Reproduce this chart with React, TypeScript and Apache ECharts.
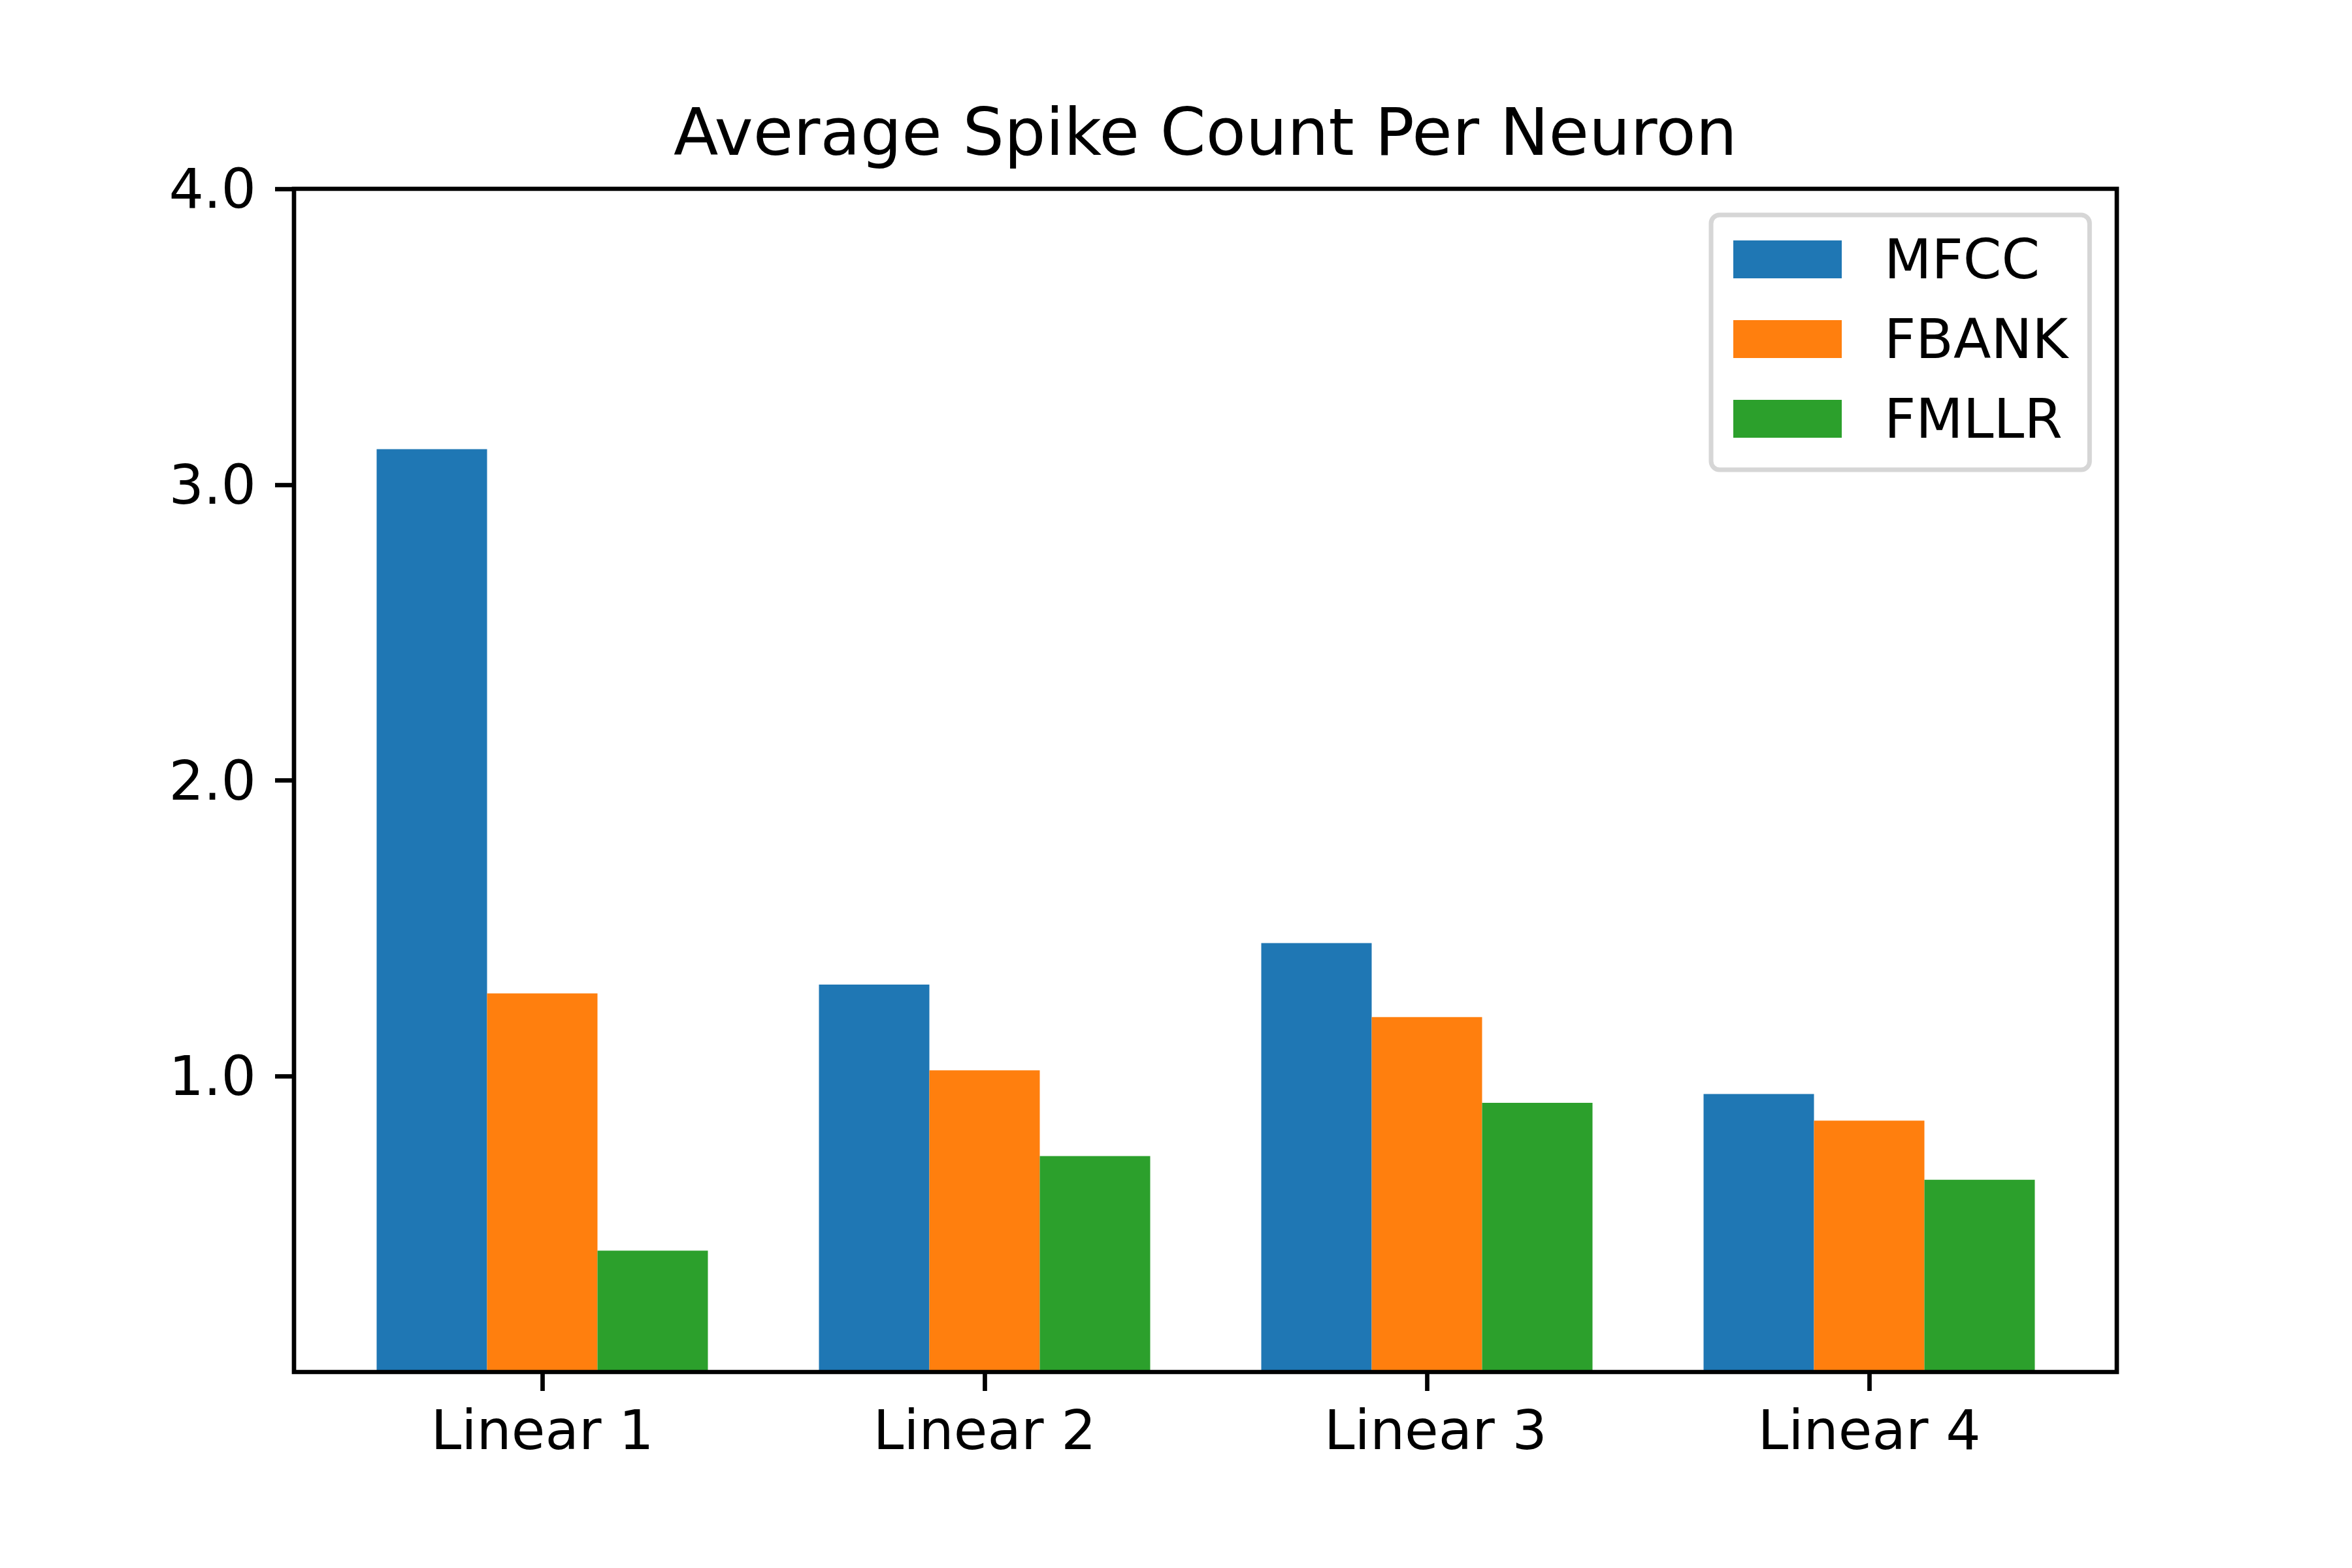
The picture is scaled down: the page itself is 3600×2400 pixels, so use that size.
import React, { useEffect, useRef } from "react";
import * as echarts from "echarts";

const titleText = "Average Spike Count Per Neuron";
const categories = ["Linear 1", "Linear 2", " Linear 3", "Linear 4"];
const seriesNames = ["MFCC", "FBANK", "FMLLR"];
const mfccValues = [3.12, 1.31, 1.45, 0.94];
const fbankValues = [1.28, 1.02, 1.2, 0.85];
const fmllrValues = [0.41, 0.73, 0.91, 0.65];
const yTickValues = [1, 2, 3, 4];
const colors = ["#1f77b4", "#ff7f0e", "#2ca02c"];

const FONT = "DejaVu Sans";

export default function App() {
  const ref = useRef<HTMLDivElement>(null);

  useEffect(() => {
    if (!ref.current) return;
    const chart = echarts.init(ref.current, undefined, { renderer: "svg", width: 3600, height: 2400 });
    const seriesValues = [mfccValues, fbankValues, fmllrValues];

    const option: any = {
      animation: false,
      backgroundColor: "#ffffff",
      graphic: [
        {
          type: "text",
          x: 1845,
          y: 202,
          z: 10,
          style: {
            text: titleText,
            fontSize: 100,
            fontFamily: FONT,
            fill: "#000",
            align: "center",
            verticalAlign: "middle",
          },
        },
      ],
      grid: [
        {
          left: 450,
          top: 289,
          width: 2790,
          height: 1811,
          show: true,
          borderColor: "#000",
          borderWidth: 6.7,
          backgroundColor: "transparent",
          z: 5,
        },
        {
          left: 491.5,
          top: 289,
          width: 2708,
          height: 1811,
        },
      ],
      xAxis: [
        { gridIndex: 0, type: "value", min: 0, max: 1, show: false },
        {
          gridIndex: 1,
          type: "category",
          data: categories,
          axisLine: { show: false },
          axisTick: {
            show: true,
            alignWithLabel: true,
            length: 29,
            lineStyle: { color: "#000", width: 6.7 },
          },
          axisLabel: {
            margin: 47,
            fontSize: 84,
            fontFamily: FONT,
            color: "#000",
          },
          splitLine: { show: false },
        },
      ],
      yAxis: [
        {
          gridIndex: 0,
          type: "value",
          min: 0,
          max: 4,
          interval: 1,
          axisLine: { show: false },
          axisTick: {
            show: true,
            length: 29,
            customValues: yTickValues,
            lineStyle: { color: "#000", width: 6.7 },
          },
          axisLabel: {
            margin: 58,
            fontSize: 84,
            fontFamily: FONT,
            color: "#000",
            customValues: yTickValues,
            formatter: (v: number) => v.toFixed(1),
          },
          splitLine: { show: false },
        },
        {
          gridIndex: 1,
          type: "value",
          min: 0,
          max: 4,
          interval: 1,
          show: false,
        },
      ],
      legend: {
        orient: "vertical",
        left: 2619,
        top: 329,
        padding: [26, 33, 36, 34],
        itemWidth: 166,
        itemHeight: 58,
        itemGap: 38,
        icon: "rect",
        backgroundColor: "#ffffff",
        borderColor: "#d6d6d6",
        borderWidth: 7,
        borderRadius: 13,
        data: seriesNames,
        textStyle: {
          fontSize: 84,
          fontFamily: FONT,
          color: "#000",
          padding: [0, 0, 0, 60],
        },
      },
      series: seriesNames.map((name, i) => ({
        name,
        type: "bar",
        xAxisIndex: 1,
        yAxisIndex: 1,
        data: seriesValues[i],
        barWidth: 169,
        barGap: "0%",
        itemStyle: { color: colors[i] },
        emphasis: { disabled: true },
      })),
    };

    chart.setOption(option);
    return () => chart.dispose();
  }, []);

  return (
    <div
      ref={ref}
      style={{ position: "absolute", left: 0, top: 0, width: 3600, height: 2400, background: "#fff" }}
    />
  );
}
